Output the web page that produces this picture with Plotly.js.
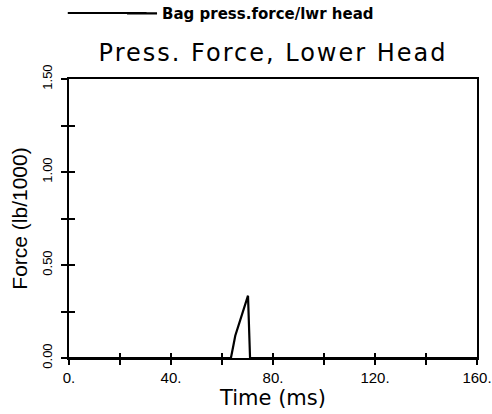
<!DOCTYPE html>
<html><head><meta charset="utf-8">
<script src="https://cdn.plot.ly/plotly-3.0.1.min.js"></script>
<style>
body{margin:0;background:#fff}#c{width:492px;height:414px}
#c .gtitle{letter-spacing:2px}
</style>
</head><body><div id="c"></div>
<script>
const timeMs = [0, 63.5, 64.5, 65.2, 70.2, 71.0, 160];
const forceVals = [0, 0, 0.07, 0.12, 0.335, 0, 0];
const seriesName = "Bag press.force/lwr head";
const xTickVals = [0, 20, 40, 60, 80, 100, 120, 140, 160];
const xTickText = ["0.", "", "40.", "", "80.", "", "120.", "", "160."];
const yTickVals = [0, 0.25, 0.5, 0.75, 1.0, 1.25, 1.5];
const yTickText = ["0.00", "", "0.50", "", "1.00", "", "1.50"];

const F = "Liberation Sans, Arial, Helvetica, sans-serif";
const D = "DejaVu Sans, Liberation Sans, sans-serif";
const trace = {x: timeMs, y: forceVals, type: "scatter", mode: "lines", name: seriesName,
  line: {color: "#000", width: 2.2}, showlegend: true};
const ghost = {mode: "lines", line: {color: "rgba(0,0,0,0)", width: 0}, showlegend: false, hoverinfo: "skip"};
const dummyY = Object.assign({x: timeMs, y: forceVals, xaxis: "x", yaxis: "y2"}, ghost);
const dummyX = Object.assign({x: timeMs, y: forceVals, xaxis: "x2", yaxis: "y"}, ghost);
const axBase = {showgrid: false, zeroline: false, linecolor: "#000", linewidth: 2, tickcolor: "#000", tickwidth: 2};
const layout = {
  width: 492, height: 414,
  margin: {l: 69, r: 15, t: 79, b: 56, autoexpand: false},
  paper_bgcolor: "#fff", plot_bgcolor: "#fff",
  font: {family: F, color: "#000"},
  title: {text: "Press. Force, Lower Head", font: {family: D, size: 24, color: "#000"}, x: 0.555, xanchor: "center", y: 0.872, yanchor: "middle"},
  showlegend: true,
  legend: {x: 0.13, y: 1.234, xanchor: "left", yanchor: "middle", font: {family: D, size: 15, weight: "bold"}, bgcolor: "rgba(0,0,0,0)", tracegroupgap: 0},
  xaxis: Object.assign({}, axBase, {range: [0, 160], tickvals: xTickVals, ticktext: xTickText, ticks: "outside", ticklen: 5,
    mirror: true, tickfont: {size: 15, family: F}, title: {text: "Time (ms)", font: {size: 21, family: D}, standoff: 5}}),
  yaxis: Object.assign({}, axBase, {range: [0, 1.5], tickvals: yTickVals, ticktext: yTickText, ticks: "outside", ticklen: 6,
    mirror: true, tickangle: -90, ticklabelstandoff: 4, tickfont: {size: 13, family: F}, title: {text: "Force (lb/1000)", font: {size: 21, family: F}, standoff: 6}}),
  xaxis2: {overlaying: "x", anchor: "y", range: [0, 160], tickvals: xTickVals, showticklabels: false, ticks: "inside", ticklen: 5, tickwidth: 2, tickcolor: "#000", showgrid: false, zeroline: false, showline: false, side: "bottom"},
  yaxis2: {overlaying: "y", anchor: "x", range: [0, 1.5], tickvals: yTickVals, showticklabels: false, ticks: "inside", ticklen: 6, tickwidth: 2, tickcolor: "#000", showgrid: false, zeroline: false, showline: false, side: "left"},
  shapes: [{type: "line", xref: "paper", yref: "paper", x0: -0.003, x1: 0.19, y0: 1.2366, y1: 1.2366, line: {color: "#000", width: 2}}]
};
Plotly.newPlot("c", [trace, dummyY, dummyX], layout, {displayModeBar: false, staticPlot: true});
</script></body></html>
